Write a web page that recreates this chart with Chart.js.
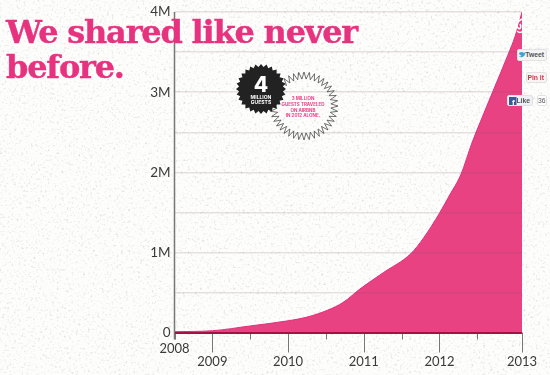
<!DOCTYPE html>
<html>
<head>
<meta charset="utf-8">
<script src="https://cdn.jsdelivr.net/npm/chart.js@4"></script>
<style>
html, body { margin: 0; padding: 0; }
body {
    width: 550px; height: 375px; overflow: hidden; position: relative;
    background-color: #fdfdfc;
    background-image: url("data:image/svg+xml,%3Csvg xmlns='http://www.w3.org/2000/svg' width='550' height='375'%3E%3Cfilter id='n'%3E%3CfeTurbulence type='fractalNoise' baseFrequency='0.42' numOctaves='3' seed='7'/%3E%3CfeColorMatrix values='0 0 0 0 0.68 0 0 0 0 0.68 0 0 0 0 0.68 2.4 0 0 0 -1.35'/%3E%3C/filter%3E%3Crect width='550' height='375' filter='url(%23n)'/%3E%3C/svg%3E");
}
#grafico { position: absolute; left: 0; top: 0; }
#titulo {
    position: absolute; left: 6px; top: 15px; margin: 0; white-space: nowrap;
    font: bold 32px/35px "DejaVu Serif", serif; letter-spacing: -1.2px; color: #e7337f;
    -webkit-text-stroke: 0.4px #e7337f;
}
#selos { position: absolute; left: 0; top: 0; z-index: 2; }
.social {
    position: absolute; box-sizing: border-box; background: #f4f4f4; border: 1px solid #e2e2e2; border-radius: 2px;
    font: bold 6.8px/10px "Liberation Sans", sans-serif; color: #555; white-space: nowrap; text-align: right; padding-right: 2px;
}
</style>
</head>
<body>
<canvas id="grafico" width="550" height="375"></canvas>
<h1 id="titulo">We shared like never<br>before.</h1>
<svg id="selos" width="550" height="375">
    <polygon id="anel" fill="none" stroke="#333" stroke-width="0.7"></polygon>
    <polygon id="sol" fill="#222"></polygon>
    <g text-anchor="middle" font-family="Inter, sans-serif" font-weight="700">
        <text x="261" y="92" font-size="21" fill="#fff" font-weight="800">4</text>
        <text x="261" y="98.5" font-size="5" fill="#fff">MILLION</text>
        <text x="261" y="103.5" font-size="5" fill="#fff">GUESTS</text>
        <text x="303" y="100" font-size="4.5" fill="#ee4088">3 MILLION</text>
        <text x="303" y="106" font-size="4.5" fill="#ee4088">GUESTS TRAVELED</text>
        <text x="303" y="111.5" font-size="4.5" fill="#ee4088">ON AIRBNB</text>
        <text x="303" y="117" font-size="4.5" fill="#ee4088">IN 2012 ALONE.</text>
    </g>
    <path d="M522 19 C517 21 516 26 518 28 C520 30 522 27 520 24 M517 31 C519 33 521 33 523 31" fill="none" stroke="#fff" stroke-width="1.6"></path>
    <path d="M519 53 c1.500 -1.500 4 -1.500 5 0 l2 -1 -1 2 c0 3 -4 4 -6.500 2.500 c1.500 0 2.500 0 3 -1 c-1.500 0 -2.500 -1.500 -2.500 -2.500z" fill="#3aa5d8"></path>
    <rect x="509" y="97" width="7.500" height="8" fill="#3b5998"></rect>
    <text x="513.300" y="104.500" font-size="8" font-weight="700" font-family="Liberation Sans" fill="#fff" text-anchor="middle">f</text>
</svg>
<div class="social" style="left:517px;top:49px;width:30px;height:12px;">Tweet</div>
<div class="social" style="left:526px;top:72px;width:21px;height:11px;color:#c8384a;background:#f8f4f4;">Pin it</div>
<div class="social" style="left:507px;top:95px;width:26px;height:11px;background:#eef0f6;">Like</div>
<div class="social" style="left:537px;top:95px;width:10px;height:11px;background:#fff;padding-right:1px;font-weight:normal;">36</div>
<script>
// valores
var anos = [2008.5, 2009, 2009.5, 2010, 2010.25, 2010.52, 2010.73, 2010.95, 2011.26, 2011.62, 2011.79, 2012, 2012.14, 2012.28, 2012.43, 2012.54, 2012.71, 2012.9, 2013, 2013.09];
var hospedes = [10000, 22000, 82000, 146000, 192000, 278000, 377000, 544000, 748000, 983000, 1181000, 1490000, 1725000, 1965000, 2370000, 2630000, 3020000, 3456000, 3700000, 4000000];

var posicoesX = [2008.5, 2009, 2009.5, 2010, 2010.5, 2011, 2011.5, 2012, 2012.5, 2013.09];
var rotulosX = ['2008', '2009', '', '2010', '', '2011', '', '2012', '', '2013'];
var tracosLongos = [false, true, false, true, false, true, false, true, false, true];
var rotulosY = { 0: '0', 1000000: '1M', 2000000: '2M', 3000000: '3M', 4000000: '4M' };

// desenha o eixo y e os tracos do eixo x, que tem dois comprimentos
const tracosX = {
    id: 'tracosX',
    afterDatasetsDraw: function (chart) {
        var ctx = chart.ctx;
        var area = chart.chartArea;
        var escala = chart.scales.x;
        ctx.save();
        ctx.strokeStyle = '#777';
        ctx.lineWidth = 1.5;
        ctx.beginPath();
        ctx.moveTo(area.left, area.top);
        ctx.lineTo(area.left, area.bottom + 7);
        ctx.stroke();
        ctx.lineWidth = 1;
        for (var i = 0; i < posicoesX.length; i++) {
            var px = Math.round(escala.getPixelForValue(posicoesX[i])) + 0.5;
            ctx.beginPath();
            ctx.moveTo(px, area.bottom);
            ctx.lineTo(px, area.bottom + (tracosLongos[i] ? 20 : 7));
            ctx.stroke();
        }
        ctx.restore();
    }
};

new Chart(document.getElementById('grafico'), {
    type: 'line',
    data: {
        datasets: [{
            data: anos.map(function (a, i) { return { x: a, y: hospedes[i] }; }),
            fill: 'origin',
            backgroundColor: '#e84283',
            borderColor: '#e0307a',
            borderWidth: 1,
            pointRadius: 0,
            cubicInterpolationMode: 'monotone'
        }]
    },
    options: {
        responsive: false,
        animation: false,
        layout: { padding: { top: 9, right: 28, left: 0, bottom: 0 } },
        plugins: { legend: { display: false }, tooltip: { enabled: false } },
        scales: {
            x: {
                type: 'linear',
                min: 2008.5,
                max: 2013.09,
                afterFit: function (escala) { escala.height = 42.5; },
                afterBuildTicks: function (escala) {
                    escala.ticks = posicoesX.map(function (v) { return { value: v }; });
                },
                border: { display: false },
                grid: { display: false },
                ticks: {
                    autoSkip: false,
                    maxRotation: 0,
                    padding: 2,
                    color: '#3a3a3a',
                    font: { family: 'Lato', size: 13, lineHeight: 1 },
                    // 2008 fica numa linha acima dos outros anos
                    callback: function (valor, i) {
                        if (rotulosX[i] === '') return '';
                        return i === 0 ? [rotulosX[i], ''] : ['', rotulosX[i]];
                    }
                }
            },
            y: {
                min: 0,
                max: 4000000,
                afterFit: function (escala) { escala.width = 174.5; },
                border: { display: false },
                grid: {
                    z: 1,
                    drawTicks: false,
                    color: function (c) { return c.tick.value === 0 ? '#a5123f' : 'rgba(110,90,95,0.17)'; },
                    lineWidth: function (c) { return c.tick.value === 0 ? 2 : 1.4; }
                },
                ticks: {
                    stepSize: 500000,
                    padding: 4,
                    color: '#3a3a3a',
                    font: { family: 'Lato', size: 13.5 },
                    callback: function (valor) { return rotulosY[valor] || ''; }
                }
            }
        }
    },
    plugins: [tracosX]
});

// estrelas dos selos
function pontosEstrela(cx, cy, externo, interno, pontas) {
    var pts = [];
    for (var i = 0; i < pontas * 2; i++) {
        var r = i % 2 === 0 ? externo : interno;
        var ang = Math.PI * i / pontas;
        pts.push((cx + r * Math.cos(ang)).toFixed(1) + ',' + (cy + r * Math.sin(ang)).toFixed(1));
    }
    return pts.join(' ');
}
document.getElementById('anel').setAttribute('points', pontosEstrela(304, 106, 34, 27, 40));
document.getElementById('sol').setAttribute('points', pontosEstrela(261, 89, 25, 22, 28));
</script>
</body>
</html>
